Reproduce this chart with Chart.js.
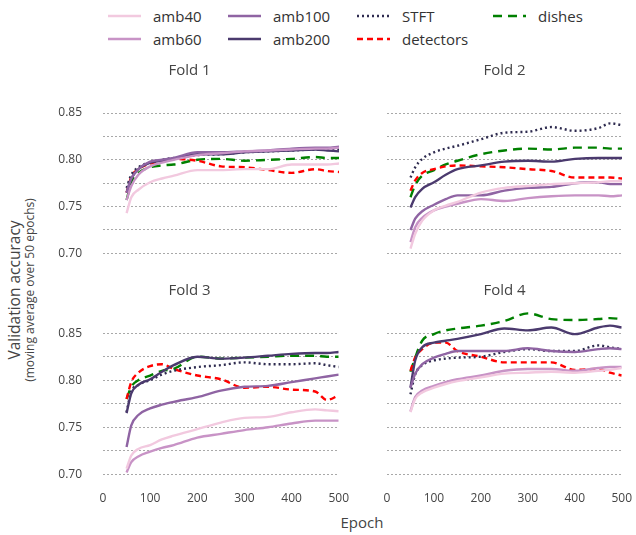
<!DOCTYPE html>
<html>
<head>
<meta charset="utf-8">
<script src="https://cdn.jsdelivr.net/npm/chart.js@4.4.1/dist/chart.umd.min.js"></script>
<style>
  body { margin: 0; background: #fff; font-family: 'Open Sans', sans-serif; color: #444; }
  #wrap { position: relative; width: 636px; height: 535px; overflow: hidden; }
  canvas.panel { position: absolute; }
  .legend-item { position: absolute; display: flex; align-items: center; font-size: 15px; color: #333; height: 20px; }
  .legend-item svg { margin-right: 12px; }
  .ytitle { position: absolute; left: 21px; top: 290px; transform: translate(-50%, -50%) rotate(-90deg); white-space: nowrap; text-align: center; line-height: 1.1; }
  .ytitle .main { font-size: 15.5px; color: #444; }
  .ytitle .sub { font-size: 12px; color: #444; }
  .xtitle { position: absolute; left: 362px; top: 522px; transform: translate(-50%, -50%); font-size: 15px; color: #444; }
</style>
</head>
<body>
<div id="wrap">
  <div id="legend"></div>
  <div class="ytitle"><div class="main">Validation accuracy</div><div class="sub">(moving average over 50 epochs)</div></div>
  <div class="xtitle">Epoch</div>
</div>
<script>
const epochs = [50, 60, 75, 100, 125, 150, 200, 250, 300, 350, 400, 450, 475, 500];
const seriesNames = ['amb40', 'amb60', 'amb100', 'amb200', 'STFT', 'detectors', 'dishes'];
const foldTitles = ['Fold 1', 'Fold 2', 'Fold 3', 'Fold 4'];
const xTicks = [0, 100, 200, 300, 400, 500];
const yGrid = [0.70, 0.725, 0.75, 0.775, 0.80, 0.825, 0.85];

// Fold 1
const fold1Amb40     = [0.743, 0.760, 0.768, 0.776, 0.780, 0.783, 0.789, 0.789, 0.790, 0.790, 0.795, 0.795, 0.795, 0.796];
const fold1Amb60     = [0.757, 0.772, 0.784, 0.793, 0.797, 0.800, 0.805, 0.807, 0.809, 0.810, 0.811, 0.812, 0.812, 0.813];
const fold1Amb100    = [0.765, 0.780, 0.790, 0.798, 0.800, 0.802, 0.808, 0.808, 0.809, 0.810, 0.812, 0.813, 0.813, 0.814];
const fold1Amb200    = [0.765, 0.780, 0.790, 0.797, 0.799, 0.801, 0.806, 0.806, 0.808, 0.809, 0.810, 0.811, 0.810, 0.809];
const fold1Stft      = [0.770, 0.784, 0.792, 0.797, 0.800, 0.802, 0.805, 0.806, 0.808, 0.809, 0.810, 0.811, 0.811, 0.811];
const fold1Detectors = [0.765, 0.782, 0.790, 0.796, 0.799, 0.801, 0.799, 0.793, 0.792, 0.789, 0.786, 0.790, 0.788, 0.787];
const fold1Dishes    = [0.757, 0.776, 0.786, 0.792, 0.794, 0.795, 0.800, 0.801, 0.799, 0.800, 0.801, 0.803, 0.802, 0.802];

// Fold 2
const fold2Amb40     = [0.705, 0.721, 0.735, 0.746, 0.751, 0.755, 0.765, 0.770, 0.772, 0.774, 0.775, 0.776, 0.777, 0.777];
const fold2Amb60     = [0.712, 0.728, 0.738, 0.746, 0.750, 0.753, 0.758, 0.756, 0.759, 0.761, 0.762, 0.762, 0.761, 0.762];
const fold2Amb100    = [0.725, 0.737, 0.745, 0.752, 0.758, 0.762, 0.762, 0.767, 0.770, 0.771, 0.775, 0.776, 0.774, 0.774];
const fold2Amb200    = [0.749, 0.760, 0.769, 0.776, 0.784, 0.790, 0.794, 0.798, 0.799, 0.798, 0.801, 0.802, 0.802, 0.802];
const fold2Stft      = [0.781, 0.792, 0.801, 0.808, 0.812, 0.815, 0.822, 0.829, 0.830, 0.835, 0.831, 0.834, 0.839, 0.837];
const fold2Detectors = [0.767, 0.778, 0.786, 0.790, 0.793, 0.794, 0.793, 0.792, 0.790, 0.788, 0.781, 0.781, 0.781, 0.780];
const fold2Dishes    = [0.760, 0.773, 0.783, 0.789, 0.795, 0.799, 0.806, 0.810, 0.812, 0.811, 0.813, 0.813, 0.812, 0.812];

// Fold 3
const fold3Amb40     = [0.706, 0.720, 0.727, 0.731, 0.737, 0.741, 0.748, 0.755, 0.760, 0.761, 0.766, 0.769, 0.768, 0.767];
const fold3Amb60     = [0.702, 0.713, 0.719, 0.724, 0.728, 0.731, 0.739, 0.743, 0.747, 0.750, 0.754, 0.757, 0.757, 0.757];
const fold3Amb100    = [0.729, 0.752, 0.763, 0.770, 0.774, 0.777, 0.782, 0.789, 0.793, 0.794, 0.798, 0.802, 0.804, 0.806];
const fold3Amb200    = [0.765, 0.786, 0.795, 0.801, 0.809, 0.816, 0.825, 0.823, 0.824, 0.826, 0.828, 0.829, 0.829, 0.830];
const fold3Stft      = [0.766, 0.788, 0.795, 0.800, 0.806, 0.810, 0.814, 0.816, 0.819, 0.817, 0.817, 0.818, 0.816, 0.814];
const fold3Detectors = [0.780, 0.798, 0.808, 0.815, 0.817, 0.812, 0.805, 0.801, 0.792, 0.793, 0.790, 0.788, 0.779, 0.784];
const fold3Dishes    = [0.780, 0.793, 0.800, 0.805, 0.810, 0.812, 0.825, 0.823, 0.824, 0.825, 0.826, 0.826, 0.825, 0.825];

// Fold 4
const fold4Amb40     = [0.766, 0.780, 0.787, 0.792, 0.796, 0.799, 0.803, 0.807, 0.808, 0.809, 0.808, 0.810, 0.811, 0.813];
const fold4Amb60     = [0.767, 0.782, 0.789, 0.794, 0.798, 0.801, 0.805, 0.810, 0.812, 0.812, 0.810, 0.813, 0.814, 0.814];
const fold4Amb100    = [0.792, 0.807, 0.817, 0.824, 0.828, 0.831, 0.831, 0.831, 0.834, 0.831, 0.830, 0.833, 0.834, 0.833];
const fold4Amb200    = [0.792, 0.821, 0.835, 0.840, 0.842, 0.844, 0.849, 0.855, 0.853, 0.856, 0.849, 0.856, 0.858, 0.856];
const fold4Stft      = [0.785, 0.806, 0.816, 0.821, 0.823, 0.824, 0.825, 0.830, 0.833, 0.831, 0.831, 0.837, 0.835, 0.833];
const fold4Detectors = [0.810, 0.824, 0.833, 0.840, 0.840, 0.831, 0.825, 0.819, 0.819, 0.819, 0.811, 0.812, 0.808, 0.805];
const fold4Dishes    = [0.809, 0.824, 0.842, 0.849, 0.853, 0.855, 0.858, 0.863, 0.871, 0.865, 0.864, 0.865, 0.866, 0.865];

const foldSeries = [
    [fold1Amb40, fold1Amb60, fold1Amb100, fold1Amb200, fold1Stft, fold1Detectors, fold1Dishes],
    [fold2Amb40, fold2Amb60, fold2Amb100, fold2Amb200, fold2Stft, fold2Detectors, fold2Dishes],
    [fold3Amb40, fold3Amb60, fold3Amb100, fold3Amb200, fold3Stft, fold3Detectors, fold3Dishes],
    [fold4Amb40, fold4Amb60, fold4Amb100, fold4Amb200, fold4Stft, fold4Detectors, fold4Dishes]
];

const styles = {
    amb40:     { color: '#f2c9df', dash: [] },
    amb60:     { color: '#c893c6', dash: [] },
    amb100:    { color: '#8f64a3', dash: [] },
    amb200:    { color: '#4b3a6e', dash: [] },
    STFT:      { color: '#2e2b4f', dash: [2, 3] },
    detectors: { color: '#ff0000', dash: [6, 4] },
    dishes:    { color: '#008000', dash: [9, 6] }
};

// where each fold panel sits on the page
const panels = [
    { left: 40,  top: 55,  width: 313, height: 213, showY: true,  showX: false },
    { left: 372, top: 55,  width: 264, height: 213, showY: false, showX: false },
    { left: 40,  top: 275, width: 313, height: 233, showY: true,  showX: true },
    { left: 372, top: 275, width: 264, height: 233, showY: false, showX: true }
];

const FONT = "'Open Sans', sans-serif";

// legend
const legendPos = [
    { x: 108, y: 6 }, { x: 108, y: 29 },
    { x: 228, y: 6 }, { x: 228, y: 29 },
    { x: 357, y: 6 }, { x: 357, y: 29 },
    { x: 493, y: 6 }
];
const legendEl = document.getElementById('legend');
seriesNames.forEach((name, i) => {
    const st = styles[name];
    const item = document.createElement('div');
    item.className = 'legend-item';
    item.style.left = legendPos[i].x + 'px';
    item.style.top = legendPos[i].y + 'px';
    item.innerHTML = '<svg width="33" height="6"><line x1="0" y1="3" x2="33" y2="3" stroke="' + st.color +
        '" stroke-width="2.4" stroke-dasharray="' + (st.dash.length ? st.dash.join(',') : 'none') + '"/></svg>' +
        '<span>' + name + '</span>';
    legendEl.appendChild(item);
});

const wrap = document.getElementById('wrap');
panels.forEach((p, k) => {
    const canvas = document.createElement('canvas');
    canvas.className = 'panel';
    canvas.width = p.width;
    canvas.height = p.height;
    canvas.style.left = p.left + 'px';
    canvas.style.top = p.top + 'px';
    wrap.appendChild(canvas);

    const datasets = seriesNames.map((name, i) => ({
        label: name,
        data: epochs.map((e, j) => ({ x: e, y: foldSeries[k][i][j] })),
        borderColor: styles[name].color,
        borderDash: styles[name].dash,
        borderWidth: 2.4,
        pointRadius: 0,
        fill: false,
        cubicInterpolationMode: 'monotone'
    }));

    new Chart(canvas, {
        type: 'line',
        data: { datasets: datasets },
        options: {
            responsive: false,
            animation: false,
            devicePixelRatio: 1,
            layout: { padding: { left: p.showY ? 0 : 15, right: 14, top: 0, bottom: p.showX ? 5 : 10 } },
            plugins: {
                legend: { display: false },
                tooltip: { enabled: false },
                title: {
                    display: true,
                    text: foldTitles[k],
                    color: '#444',
                    font: { family: FONT, size: 15, weight: 'normal' },
                    padding: { top: 7, bottom: 10.6 }
                }
            },
            scales: {
                x: {
                    type: 'linear',
                    display: p.showX,
                    min: 0,
                    max: 500,
                    grid: { display: false },
                    border: { display: false },
                    afterBuildTicks: (scale) => { scale.ticks = xTicks.map(v => ({ value: v })); },
                    afterFit: (scale) => { if (p.showX) scale.height = 24; },
                    ticks: {
                        color: '#444',
                        padding: 4,
                        maxRotation: 0,
                        font: { family: FONT, size: 12 }
                    }
                },
                y: {
                    min: 0.695,
                    max: 0.874,
                    border: { display: false, dash: [2, 2] },
                    grid: { color: '#a8a8a8', lineWidth: 1, drawTicks: false },
                    afterBuildTicks: (scale) => { scale.ticks = yGrid.map(v => ({ value: v })); },
                    afterFit: (scale) => {
                        if (p.showY) scale.width = 63;
                        // tick padding would otherwise push the plot bottom up
                        scale.paddingTop = 8;
                        scale.paddingBottom = 8;
                    },
                    ticks: {
                        display: p.showY,
                        color: '#444',
                        padding: 21,
                        font: { family: FONT, size: 12 },
                        callback: (v) => (Math.round(v * 1000) % 50 === 0 ? v.toFixed(2) : '')
                    }
                }
            }
        }
    });
});
</script>
</body>
</html>
